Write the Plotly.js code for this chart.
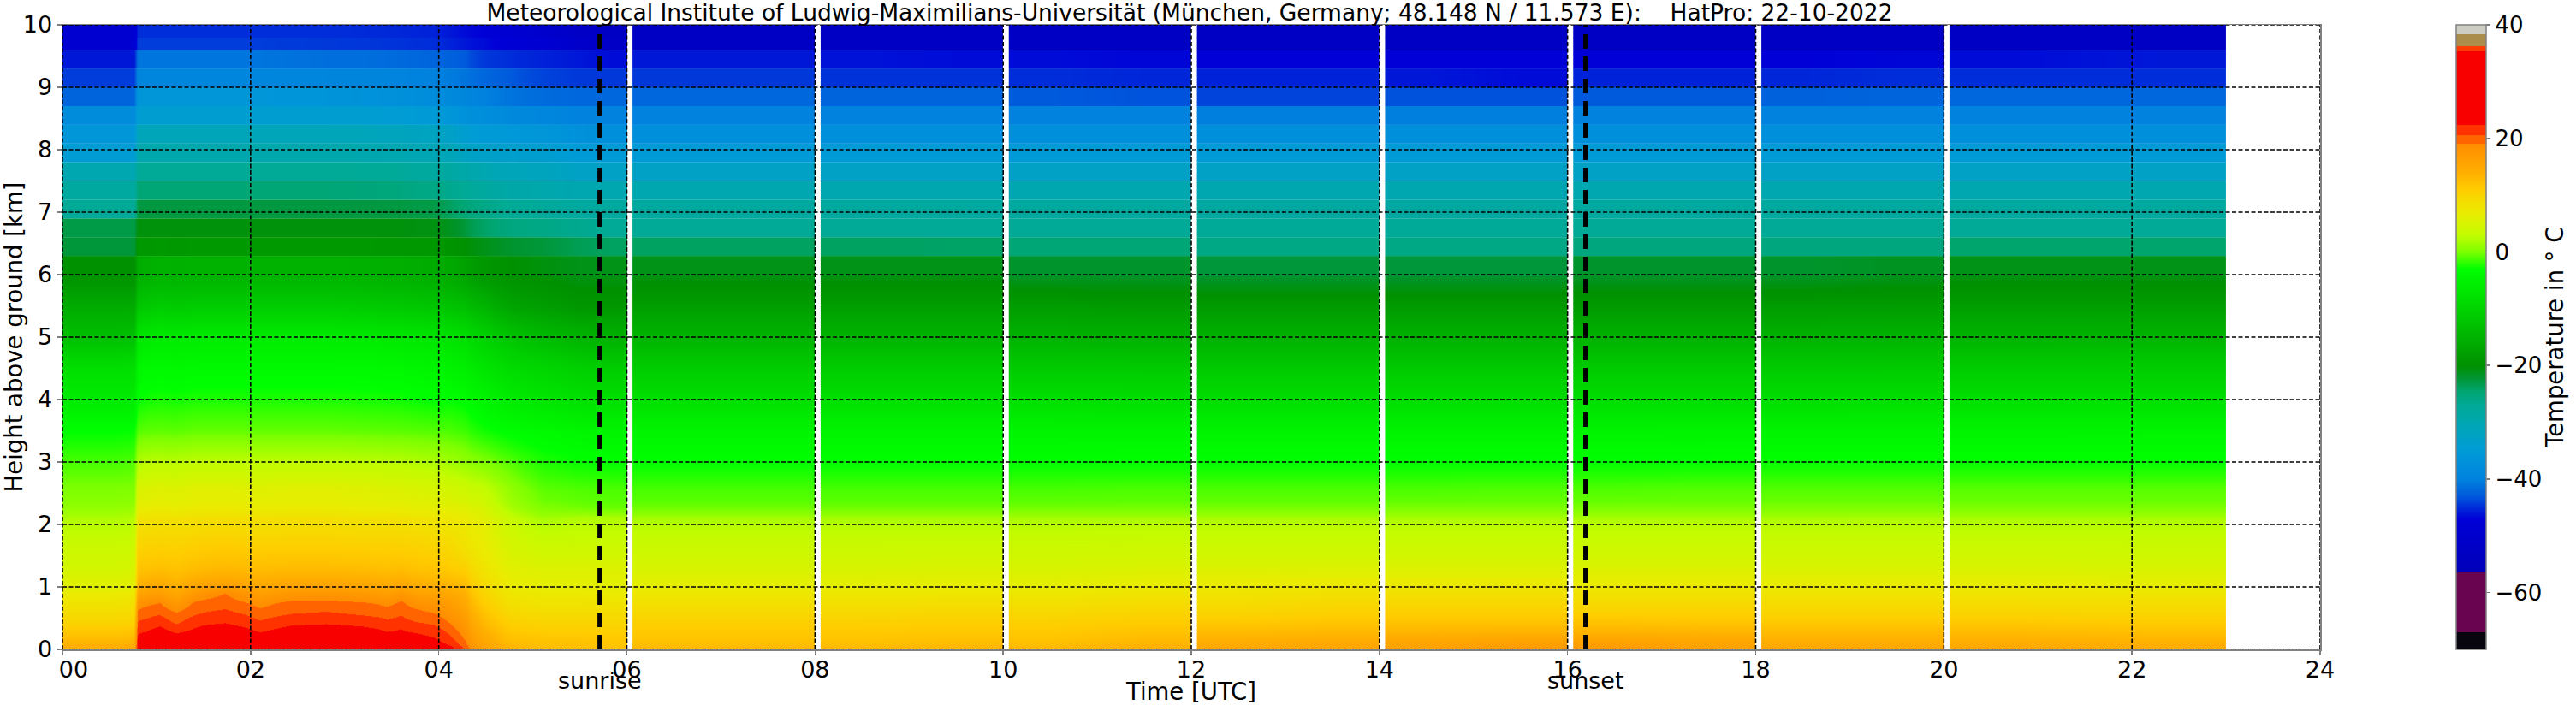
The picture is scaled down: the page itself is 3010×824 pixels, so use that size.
<!DOCTYPE html>
<html><head><meta charset="utf-8">
<script src="https://cdn.plot.ly/plotly-3.0.1.min.js"></script>
<style>html,body{margin:0;padding:0;background:#fff}</style></head>
<body><div id="chart" style="width:3010px;height:824px"></div>
<script>
const titleText = "Meteorological Institute of Ludwig-Maximilians-Universität (München, Germany; 48.148 N / 11.573 E):\u00a0\u00a0\u00a0\u00a0HatPro: 22-10-2022";
const xTickVals = [0,2,4,6,8,10,12,14,16,18,20,22,24];
const xTickText = ["\u00a0\u00a0\u00a000","02","04","06","08","10","12","14","16","18","20","22","24"];
const yTickVals = [0,1,2,3,4,5,6,7,8,9,10];
const sunriseHour = 5.71, sunsetHour = 16.19;

// measurement blocks: column edges in hours (white gaps fall between blocks)
const block0 = [0,.38,.74,.78,.82,.95,1.12,1.3,1.5,1.95,2.25,2.6,3.0,3.35,3.55,3.65,3.85,4.05,4.2,4.35,4.6,4.9,5.3,5.65,6.0];
const block1 = [6.06,7,8];
const block2 = [8.06,9,10];
const block3 = [10.06,11,12];
const block4 = [12.06,13,14];
const block5 = [14.06,15,16];
const block6 = [16.06,17,18];
const block7 = [18.06,19,20];
const block8 = [20.06,21.5,23];
const blocks = [block0,block1,block2,block3,block4,block5,block6,block7,block8];

// height bin edges, km
const lowerEdges = [0,.08,.22,.37,.52,.67,.82,.97,1.17,1.45,1.78,2.05,2.17,2.37,2.78,3.25,3.75,4.25,4.75,5.25,5.75,6.3];
const upperEdges = [6.3,6.6,6.9,7.2,7.5,7.8,8.1,8.4,8.7,9.0,9.3,9.6,9.8,10];

// temperature (deg C) per height row; 24 columns of block0, then 2 per later block
const T0_04 = [14.5,14.5,15,24,25,26,25,26,27,25.5,27,27.5,27,26,26,25,24,22.8,20.2,16,13.5,12.5,12.5,12, 13,13,13,13.3,13,14,15,15.5,16,17,17,16,15,15,15,14.5];
const T0_15 = [13,13,13.5,23.2,23.8,24.5,23.8,24.5,25.5,24,25.5,26,25.5,24.5,24.5,23.8,22.8,21.3,19,15,12.5,12,12,11.5, 12,12,12,12.3,12,13,14,14.5,15,15.5,15.5,15,14,14,14,13.5];
const T0_30 = [11.5,11.5,12,22,22.3,23.2,22,22.8,23.8,22.2,23.3,23.8,23.3,22.3,22.7,22.1,21.5,20,18,14,11.5,11,11,10.7, 11.3,11.3,11.3,11.5,11.3,12,12.7,13,13.3,13.5,13.5,13.3,12.7,12.7,12.7,12.3];
const T0_45 = [10,10,10.5,20.6,21,21.7,20.2,21.6,22.2,20.8,21.8,22,21.6,20.9,21.5,20.6,20.2,18.7,17,13,10.5,10,10,9.7, 10.5,10.5,10.5,10.7,10.5,11,11.3,11.7,12,12,12,11.7,11.3,11.3,11.3,11];
const T0_60 = [9,9,9.5,19.4,19.8,20.2,19,20.2,21,19.6,20.4,20.7,20.2,19.8,20.2,19.5,18.9,17.5,16,12,9.5,9,9,9, 9.5,9.5,9.5,9.7,9.5,10,10,10.5,10.7,10.7,10.5,10.5,10,10,10,9.8];
const T0_75 = [8,8,8.5,17.5,18.5,19,17,19.3,19.9,18.3,19.5,19.6,19.2,18.5,19.5,18.2,17.5,16.3,15,11,8.5,8,8,8, 8.5,8.5,8.5,8.7,8.5,9,9,9.5,9.6,9.6,9.3,9.3,9,9,9,8.8];
const T0_90 = [7,7,7.5,15.5,16,16.5,15,17,19,16.2,17.3,17.5,17,16.2,17.5,16,15.5,15,14,10,7.7,7.3,7.3,7, 7.5,7.5,7.5,7.7,7.5,8,8,8.5,8.5,8.5,8.3,8.3,8,8,8,7.8];
const T1_07 = [5.8,5.8,6,13.5,14,14.5,13.5,14.7,15.5,14.5,15,15,14.8,14.3,14.7,14,13.5,13,12.5,9,7,6.3,6.3,6.2, 6.3,6.3,6.3,6.5,6.3,6.7,7,7.2,7.2,7.2,7,7,6.8,6.8,6.8,6.5];
const T1_31 = [4.5,4.5,5,12,12,12.3,12,12.5,13,12.5,12.7,12.7,12.5,12.3,12.5,12,11.8,11,10.5,8,6,5.5,5.5,5.5, 5,5,5,5.2,5,5.3,5.4,5.5,5.5,5.5,5.4,5.4,5.2,5.2,5.2,5];
const T1_62 = [3.8,3.8,4,10.5,10.5,10.7,10.5,11,11.3,11,11,11,10.8,10.7,10.7,10.5,10.2,9.5,8.5,7,5,4,4,4, 3.8,3.8,3.8,3.9,3.9,4,4,4,4,4,4,4,3.9,3.9,3.9,3.8];
const T1_92 = [2.8,2.8,3,8.8,9,9,9,9.2,9.4,9,9.2,9.2,9,9,9,8.8,8.5,8,7.5,6.5,4,2.8,3,3, 2.8,2.8,2.8,2.8,2.9,3,3,3,3,3,3,3,2.9,2.9,2.8,2.8];
const T2_11 = [2,2,2.5,8,8.2,8.3,8.3,8.5,8.7,8.5,8.5,8.5,8.3,8.2,8.2,8,7.7,7.2,7,6,3.5,1.5,2,2, 1.5,1.5,1.5,1.5,1.6,1.6,1.7,1.7,1.7,1.7,1.7,1.7,1.7,1.8,1.7,1.7];
const T2_27 = [1,1,1.3,6.5,6.8,7,6.8,7,7.2,7,7,7,6.8,6.8,6.8,6.5,6.5,6.3,6,5,2,.2,-.2,-.5, -.3,-.3,-.3,-.3,-.2,-.2,-.1,-.1,0,0,0,0,.1,.1,.1,.1];
const T2_58 = [.1,.1,.2,5,5.5,5.8,5.5,6,6,5.8,6,6,5.8,5.5,5.5,5.2,5,4.5,4,3.3,1,-.8,-1.1,-1.2, -1.3,-1.3,-1.3,-1.3,-1.3,-1.2,-1.2,-1.2,-1.2,-1.1,-1.1,-1,-1,-1,-.9,-.9];
const T3_02 = [-1.3,-1.3,-1,2,2.5,2.6,2.5,2.8,2.8,2.8,2.8,2.8,2.7,2.5,2.5,2.2,2,1.5,1,.2,-1,-2.3,-2.8,-3, -3,-3,-3,-3,-3,-3,-3,-3,-3,-3,-3,-3,-2.9,-2.9,-2.9,-2.9];
const T3_50 = [-3,-3,-2.8,-1,-.8,-.7,-.8,-.6,-.6,-.6,-.6,-.6,-.7,-.8,-.8,-.9,-1,-1.2,-1.5,-2.5,-3.3,-3.8,-4.3,-4.6, -4.6,-4.6,-4.6,-4.6,-4.6,-4.7,-4.8,-4.8,-4.8,-4.8,-4.8,-4.7,-4.6,-4.6,-4.6,-4.5];
const T4_00 = [-6.2,-6.2,-6,-3,-2.6,-2.4,-2.5,-2.3,-2.3,-2.3,-2.3,-2.3,-2.4,-2.5,-2.6,-2.8,-3,-3,-3.3,-4.6,-6,-7,-7.8,-8, -8,-8,-8,-8,-8,-8.2,-8.3,-8.3,-8.3,-8.3,-8.3,-8.3,-8.2,-8.1,-8,-8];
const T4_50 = [-8,-8,-8,-4.5,-4,-3.8,-4,-3.8,-3.8,-3.8,-3.8,-3.8,-3.8,-4,-4,-4.3,-4.5,-5,-5.5,-7,-8.5,-9.5,-10.5,-11, -11,-11,-11,-11,-11.2,-11.3,-11.4,-11.4,-11.4,-11.4,-11.3,-11.3,-11.2,-11.1,-11,-11];
const T5_00 = [-13,-13,-12.5,-7,-6.5,-6,-6.3,-6,-6,-6,-6,-6,-6.2,-6.5,-6.5,-6.8,-7,-7.5,-8,-10,-12,-13.5,-14.5,-15, -14.6,-14.6,-14.6,-14.6,-14.8,-15,-15,-15,-15,-15,-15,-15,-14.8,-14.7,-14.6,-14.5];
const T5_50 = [-16,-16,-16,-12,-11.5,-11,-11.3,-11,-11,-11,-11,-11,-11.2,-11.5,-11.5,-11.8,-12,-12.5,-13,-14.5,-17,-18,-19,-19, -18,-18,-18,-18,-18.2,-18.5,-18.5,-18.5,-18.5,-18.5,-18.5,-18.5,-18.3,-18.2,-18,-18];
const T6_03 = [-20,-20,-20,-16,-15.5,-15,-15.2,-15,-15,-15,-15,-15,-15.2,-15.5,-15.5,-15.8,-16,-16.5,-17.5,-19,-20,-20.5,-21,-21, -21,-21,-21,-21,-22,-22,-22.5,-22.5,-22.5,-22.5,-22,-22,-22,-21.5,-21,-21];
const lowerRows = [T0_04,T0_15,T0_30,T0_45,T0_60,T0_75,T0_90,T1_07,T1_31,T1_62,T1_92,T2_11,T2_27,T2_58,T3_02,T3_50,T4_00,T4_50,T5_00,T5_50,T6_03];

const T6_45 = [-22.5,-22.5,-22.5,-19,-19,-18.8,-19,-18.8,-18.8,-18.8,-18.8,-18.8,-18.8,-19,-19,-19,-19,-19.5,-20,-21,-22,-22.5,-23.5,-24, -24,-24,-24,-24.2,-25,-25,-26,-26,-26,-26,-25.5,-25.5,-25.5,-25.5,-24.5,-24.5];
const T6_75 = [-23,-23,-23,-20.5,-20.5,-20.5,-20.5,-20.5,-20.5,-20.5,-20.5,-20.5,-20.5,-20.5,-20.5,-20.7,-20.7,-21.5,-22.5,-24.2,-25.5,-26,-26.5,-27, -27,-27,-27,-27,-27,-27,-27.2,-27.2,-27.2,-27.2,-27,-27,-27,-27,-27,-27];
const T7_05 = [-27,-27,-27,-22.8,-22.8,-22.8,-22.8,-22.8,-22.8,-22.8,-22.8,-22.8,-22.8,-22.8,-22.8,-23,-23,-24,-25,-26,-27,-27.5,-28,-28, -28,-28,-28,-28,-28,-28,-28.3,-28.3,-28.3,-28.3,-28,-28,-28,-28,-28,-28];
const T7_35 = [-28,-28,-28,-25,-25,-25,-25,-25,-25,-25,-25,-25,-25.2,-25.3,-25.5,-25.8,-26,-26.5,-27,-28,-29,-29.5,-30,-30, -30,-30,-30,-30,-30,-30,-30,-30,-30,-30,-30,-30,-30,-30,-30,-30];
const T7_65 = [-30,-30,-30,-27,-27,-27,-27,-27,-27,-27,-27,-27,-27.2,-27.3,-27.5,-27.8,-28,-28.5,-29,-30,-31,-31.5,-32.5,-32.5, -32.5,-32.5,-32.5,-32.5,-32.5,-32.5,-32.5,-32.5,-32.5,-32.5,-32.5,-32.5,-32.5,-32.5,-32.5,-32.5];
const T7_95 = [-34.5,-34.5,-34.5,-29.5,-29.5,-29.5,-29.5,-29.5,-29.5,-29.5,-29.5,-29.5,-29.7,-30,-30,-30.3,-30.5,-31,-32,-33,-33.5,-34,-35,-35, -35,-35,-35,-35,-35,-35,-35,-35,-35,-35,-35,-35,-35,-35,-35,-35];
const T8_25 = [-36,-36,-36,-31,-31,-31,-31,-31,-31,-31,-31,-31,-31.2,-31.5,-31.5,-31.8,-32,-33,-34,-35,-35.5,-36,-37,-37.5, -37.5,-37.5,-37.5,-37.5,-37.5,-37.5,-37.5,-37.5,-37.5,-37.5,-37.5,-37.5,-37.5,-37.5,-37.5,-37.5];
const T8_55 = [-38,-38,-38,-34,-34,-34,-34,-34,-34,-34,-34,-34,-34.2,-34.5,-34.5,-34.8,-35,-36,-37,-37.5,-38.5,-39,-40,-40, -40,-40,-40,-40,-40,-40,-40.2,-40.2,-40.2,-40.2,-40,-40,-40,-40,-40,-40];
const T8_85 = [-42.2,-42.2,-42.2,-36,-36,-36,-36,-36,-36,-36,-36.2,-36.5,-36.8,-37,-37.2,-37.5,-38,-38.5,-39,-40,-41,-41.7,-42,-42, -42,-42,-42.2,-42.2,-43,-43.3,-44,-44,-43.4,-43.4,-43,-43,-42.5,-42.2,-42,-42];
const T9_15 = [-44.3,-44.3,-44.3,-39,-39,-39,-39,-39,-39,-39,-39.2,-39.3,-39.4,-39.5,-39.6,-39.8,-40,-40.5,-41,-42,-43,-44,-44.5,-44.5, -44.5,-44.5,-44.8,-44.8,-45,-45.3,-45.5,-45.5,-46,-46.5,-45.5,-45.5,-45.3,-45,-45,-45];
const T9_45 = [-46,-46,-46,-41,-41,-41,-41,-41,-41,-41,-41.2,-41.4,-41.5,-41.7,-41.8,-42,-42.2,-42.5,-43,-44.5,-45,-45.5,-46,-46.5, -46,-46,-46.2,-46.5,-46.5,-46.8,-47,-47,-47,-47,-47,-47,-47,-46.8,-46.5,-46];
const T9_70 = [-49,-49,-49,-44.3,-44.3,-44.3,-44.3,-44.3,-44.3,-44.3,-44.4,-44.5,-44.6,-44.7,-44.8,-44.9,-45,-45.5,-46,-46.5,-47.5,-48.5,-51,-52, -53,-53,-53,-53,-53,-53,-53,-53,-53,-53,-53,-53,-53,-53,-53,-53];
const T9_90 = [-49,-49,-49,-45,-45,-45,-45,-45,-45,-45,-45,-45,-45.1,-45.2,-45.3,-45.4,-45.5,-46,-46.5,-47,-48.5,-50,-52,-53, -53,-53,-53,-53,-53,-53,-53,-53,-53,-53,-53,-53,-53,-53,-53,-53];
const upperRows = [T6_45,T6_75,T7_05,T7_35,T7_65,T7_95,T8_25,T8_55,T8_85,T9_15,T9_45,T9_70,T9_90];

// colour bar: values in deg C and colours
const barValues = [-70,-67,-67,-56.5,-56.5,-47,-43,-40,-35,-31,-27,-24.5,-22,-20,-11,-3,0,3,7,11,14,19,19,20.6,20.6,22.4,22.4,35.3,35.3,36.2,36.2,38.3,38.3,40];
const barColors = ["rgb(8,5,15)","rgb(8,5,15)","rgb(105,5,80)","rgb(105,5,80)","rgb(0,0,185)","rgb(0,0,215)","rgb(0,90,220)","rgb(0,130,222)","rgb(0,155,215)","rgb(0,165,185)","rgb(0,170,150)","rgb(0,165,110)","rgb(0,148,45)","rgb(0,145,0)","rgb(0,205,0)","rgb(0,255,0)","rgb(125,255,0)","rgb(195,252,0)","rgb(235,235,0)","rgb(255,205,0)","rgb(255,175,0)","rgb(255,140,0)","rgb(255,100,0)","rgb(255,100,0)","rgb(255,50,0)","rgb(255,50,0)","rgb(248,0,0)","rgb(248,0,0)","rgb(255,60,0)","rgb(255,60,0)","rgb(170,140,75)","rgb(170,140,75)","rgb(205,205,195)","rgb(205,205,195)"];
const barMin = -70, barMax = 40;
const barScale = barValues.map((v,i)=>[(v-barMin)/(barMax-barMin), barColors[i]]);

const traces = [];
let col = 0;
blocks.forEach(edges=>{
  const n = edges.length-1;
  traces.push({type:'heatmap',x:edges,y:lowerEdges,z:lowerRows.map(r=>r.slice(col,col+n)),coloraxis:'coloraxis',zsmooth:'best',hoverinfo:'skip'});
  // each upper band keeps flat in height but runs smoothly in time
  upperRows.forEach((r,i)=>{
    const band = r.slice(col,col+n);
    traces.push({type:'heatmap',x:edges,y:[upperEdges[i],(upperEdges[i]+upperEdges[i+1])/2,upperEdges[i+1]],z:[band,band],coloraxis:'coloraxis',zsmooth:'best',hoverinfo:'skip'});
  });
  col += n;
});

const gridStyle = {color:'#000',width:1.6,dash:'5px,2.5px'};
const shapes = [];
xTickVals.forEach(v=>shapes.push({type:'line',layer:'above',xref:'x',yref:'y',x0:v,x1:v,y0:0,y1:10,line:gridStyle}));
yTickVals.forEach(v=>shapes.push({type:'line',layer:'above',xref:'x',yref:'y',x0:0,x1:24,y0:v,y1:v,line:gridStyle}));
[sunriseHour,sunsetHour].forEach(v=>shapes.push({type:'line',layer:'above',xref:'x',yref:'y',x0:v,x1:v,y0:0,y1:10,line:{color:'#000',width:5,dash:'17px,9px'}}));

const fontFam = '"DejaVu Sans", sans-serif';
const tickSize = 27, labelSize = 27.5;
const layout = {
  width:3010,height:824,autosize:false,showlegend:false,
  paper_bgcolor:'#fff',plot_bgcolor:'#fff',
  font:{family:fontFam,size:tickSize,color:'#000'},
  margin:{l:72.5,r:299,t:29,b:65,pad:0},
  title:{text:titleText,font:{family:fontFam,size:26.5,color:'#000'},x:1390/3010,xanchor:'center',xref:'container',y:1-15/824,yanchor:'middle',yref:'container'},
  xaxis:{range:[0,24],tickmode:'array',tickvals:xTickVals,ticktext:xTickText,showgrid:false,zeroline:false,
    showline:true,mirror:true,linecolor:'#808080',linewidth:1.5,ticks:'outside',ticklen:5,tickcolor:'#808080',tickwidth:1.5,ticklabelstandoff:-6,
    tickfont:{family:fontFam,size:tickSize},title:{text:'Time [UTC]',font:{family:fontFam,size:labelSize},standoff:0}},
  yaxis:{range:[0,10],tickmode:'array',tickvals:yTickVals,showgrid:false,zeroline:false,
    showline:true,mirror:true,linecolor:'#808080',linewidth:1.5,ticks:'outside',ticklen:5,tickcolor:'#808080',tickwidth:1.5,
    tickfont:{family:fontFam,size:tickSize},title:{text:'Height above ground [km]',font:{family:fontFam,size:labelSize},standoff:10}},
  coloraxis:{cmin:barMin,cmax:barMax,colorscale:barScale,colorbar:{
    x:2870/3010,xref:'container',xanchor:'left',xpad:0,
    y:0,yanchor:'bottom',ypad:0,
    len:1,lenmode:'fraction',thickness:35,thicknessmode:'pixels',
    outlinecolor:'#808080',outlinewidth:1.5,borderwidth:0,
    tickmode:'array',tickvals:[-60,-40,-20,0,20,40],ticks:'outside',ticklen:5,tickcolor:'#808080',tickwidth:1.5,
    tickfont:{family:fontFam,size:26}}},
  shapes:shapes,
  annotations:[
    {text:'sunrise',xref:'x',yref:'paper',x:sunriseHour,y:-36/730,yanchor:'middle',xanchor:'center',showarrow:false,font:{family:fontFam,size:tickSize}},
    {text:'sunset',xref:'x',yref:'paper',x:sunsetHour,y:-36/730,yanchor:'middle',xanchor:'center',showarrow:false,font:{family:fontFam,size:tickSize}},
    {text:'Temperature in \u00b0\u00a0C',xref:'paper',yref:'paper',x:(2985-72.5)/2638.5,y:.5,xanchor:'center',yanchor:'middle',textangle:-90,showarrow:false,font:{family:fontFam,size:labelSize}}
  ]
};
Plotly.newPlot('chart',traces,layout,{staticPlot:true,displayModeBar:false});
</script></body></html>
